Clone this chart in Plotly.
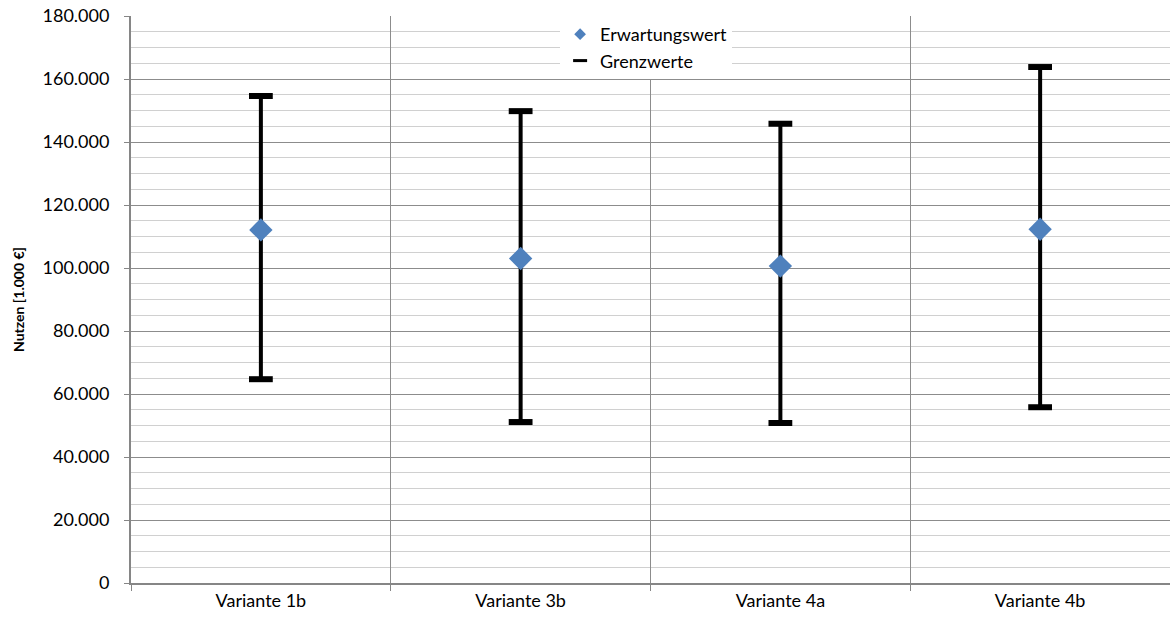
import plotly.graph_objects as go

# Nutzen je Variante in 1.000 €
varianten = ["Variante 1b", "Variante 3b", "Variante 4a", "Variante 4b"]
erwartungswert = [112100, 103000, 100600, 112300]
grenze_oben = [154600, 149800, 145800, 163800]
grenze_unten = [64700, 51100, 50800, 55800]

font_family = "Lato, 'Open Sans', sans-serif"

# vertical connectors between lower and upper bound
line_x, line_y = [], []
for v, lo, hi in zip(varianten, grenze_unten, grenze_oben):
    line_x += [v, v, None]
    line_y += [lo, hi, None]

fig = go.Figure()
fig.add_trace(go.Scatter(
    x=line_x, y=line_y, mode="lines",
    line=dict(color="black", width=4),
    showlegend=False, hoverinfo="skip",
))
fig.add_trace(go.Scatter(
    x=varianten + varianten, y=grenze_unten + grenze_oben,
    mode="markers", name="Grenzwerte", showlegend=False,
    marker=dict(symbol="line-ew", size=17,
                line=dict(color="black", width=6)),
))
fig.add_trace(go.Scatter(
    x=varianten, y=erwartungswert, mode="markers",
    name="Erwartungswert", showlegend=False,
    marker=dict(symbol="diamond", size=18, color="#4F81BD",
                line=dict(width=0)),
))

# legend entries with smaller symbols
fig.add_trace(go.Scatter(
    x=[None], y=[None], mode="markers", name="Erwartungswert",
    legendrank=1,
    marker=dict(symbol="diamond", size=9, color="#4F81BD",
                line=dict(width=0)),
))
fig.add_trace(go.Scatter(
    x=[None], y=[None], mode="markers", name="Grenzwerte",
    legendrank=2,
    marker=dict(symbol="line-ew", size=10,
                line=dict(color="black", width=3)),
))

fig.update_layout(
    width=1170, height=617,
    margin=dict(l=131, r=0, t=16, b=34),
    paper_bgcolor="white", plot_bgcolor="white",
    font=dict(family=font_family, size=18, color="black"),
    separators=",.",
    showlegend=True,
    legend=dict(
        x=0.413, y=1, xanchor="left", yanchor="top",
        bgcolor="white", borderwidth=0,
        font=dict(size=18), tracegroupgap=0,
        itemwidth=30,
    ),
    xaxis=dict(
        type="category", categoryorder="array", categoryarray=varianten,
        range=[-0.5, 3.5], tickson="boundaries",
        showgrid=True, gridcolor="#8c8c8c", gridwidth=1,
        showline=True, linecolor="#868686", linewidth=2,
        ticks="outside", ticklen=6, tickcolor="#868686",
        tickfont=dict(size=18), zeroline=False,
        ticklabelstandoff=0,
    ),
    yaxis=dict(
        range=[0, 180000], tick0=0, dtick=20000,
        tickformat=",.0f",
        showgrid=True, gridcolor="#8c8c8c", gridwidth=1,
        minor=dict(dtick=5000, showgrid=True, gridcolor="#d0d0d0",
                   gridwidth=1),
        showline=True, linecolor="#868686", linewidth=2,
        ticks="outside", ticklen=5, tickcolor="#868686",
        tickfont=dict(size=18), zeroline=False,
        ticklabelstandoff=11,
        title=dict(text="<b>Nutzen [1.000 €]</b>",
                   font=dict(size=14), standoff=15),
    ),
)

fig.write_html("out.html")
